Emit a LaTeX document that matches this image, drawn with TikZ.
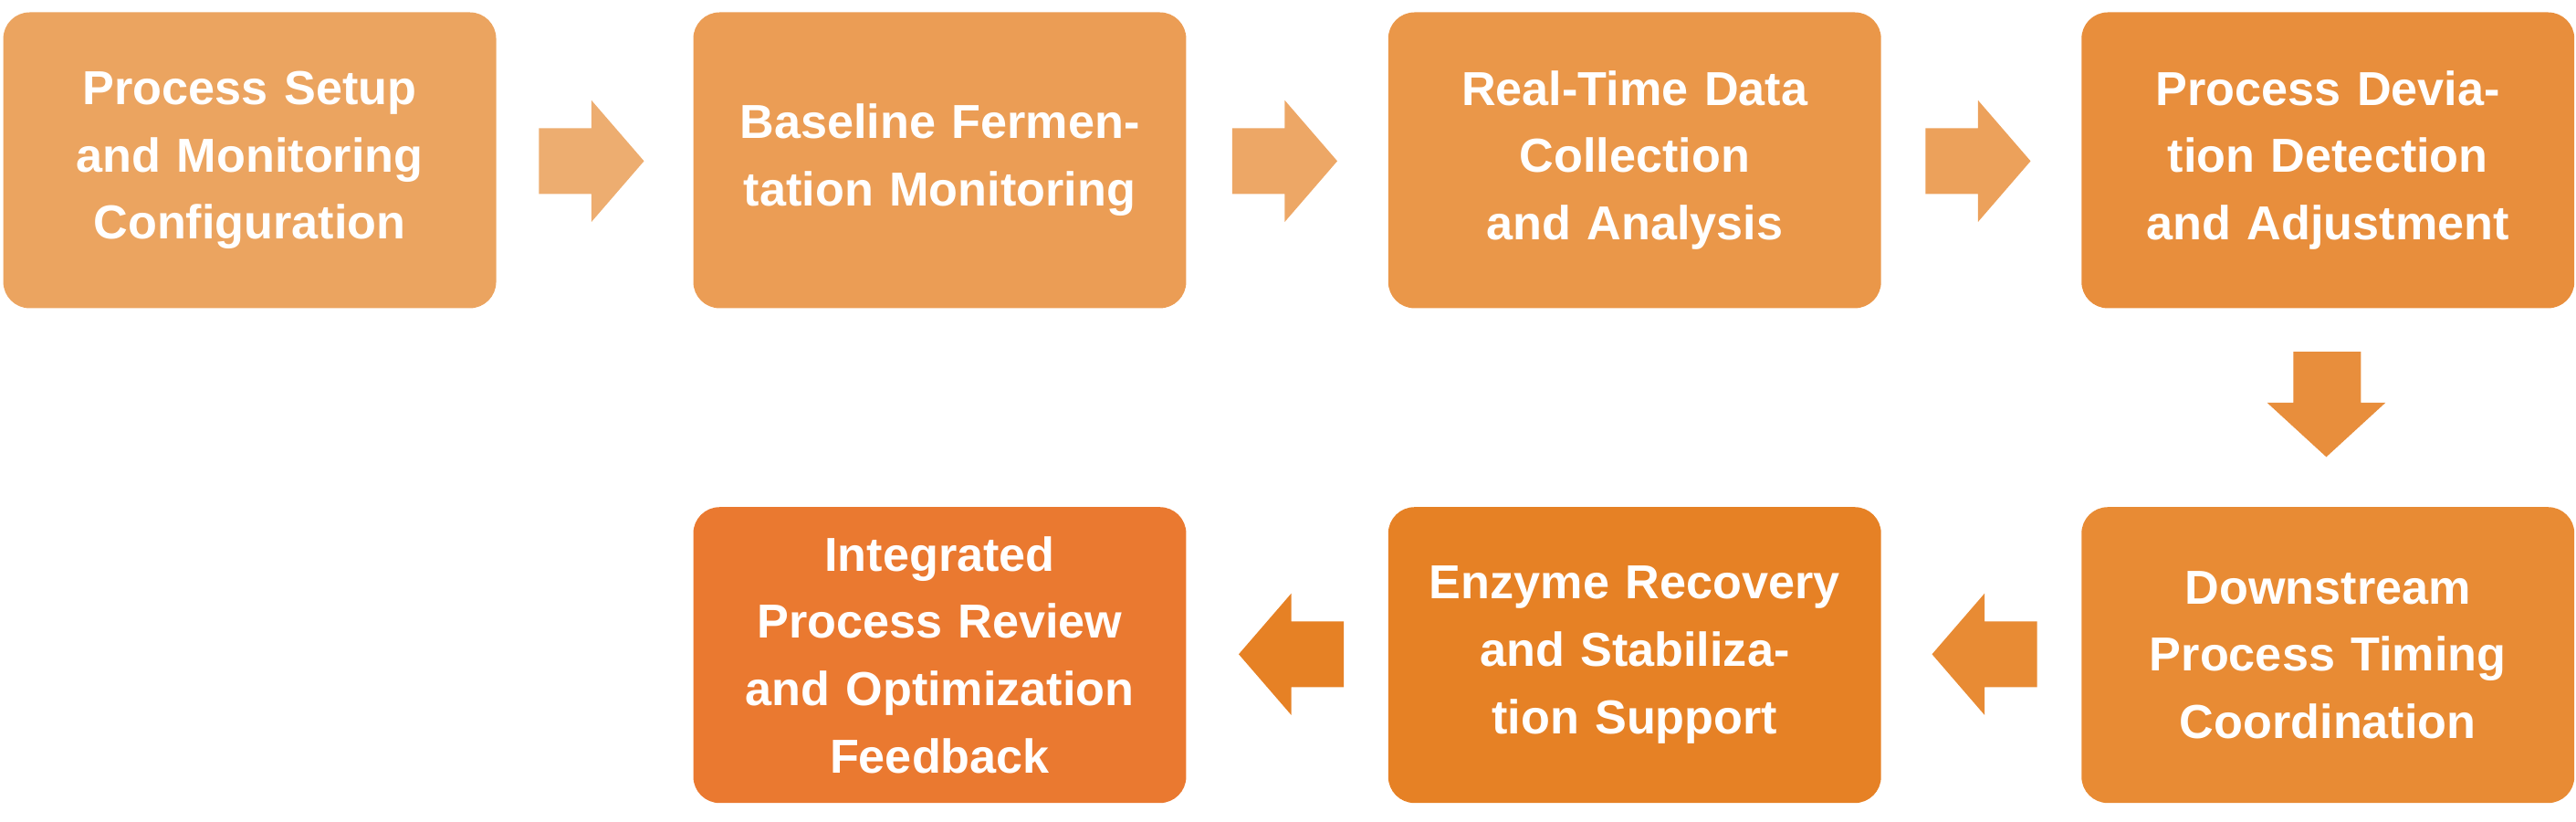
\documentclass[tikz,border=0pt]{standalone}
\usepackage{fontspec}
\setmainfont{Liberation Sans}
\begin{document}
\begin{tikzpicture}[x=1pt,y=-1pt,
 box/.style={rounded corners=16pt,minimum width=300pt,minimum height=180pt,text width=250pt,align=center,font=\bfseries\fontsize{29}{41}\selectfont,text=white,inner sep=0pt},
 arr/.style={fill=#1}]
\useasboundingbox (0,0) rectangle (1568,500);
\definecolor{c1}{HTML}{EBA460}\definecolor{c2}{HTML}{EB9D55}\definecolor{c3}{HTML}{EA9749}
\definecolor{c4}{HTML}{E88E3C}\definecolor{c5}{HTML}{E88B34}\definecolor{c6}{HTML}{E68125}\definecolor{c7}{HTML}{EA7930}
\node[box,fill=c1] (a) at (152,97.5) {Process Setup and Monitoring Configuration};
\node[box,fill=c2] (b) at (572,97.5) {Baseline Fermentation Monitoring};
\node[box,fill=c3] (c) at (995,97.5) {Real-Time Data Collection and Analysis};
\node[box,fill=c4] (d) at (1417,97.5) {Process Deviation Detection and Adjustment};
\node[box,fill=c5] (e) at (1417,398.5) {Downstream Process Timing Coordination};
\node[box,fill=c6] (f) at (995,398.5) {Enzyme Recovery and Stabilization Support};
\node[box,fill=c7] (g) at (572,398.5) {Integrated Process Review and Optimization Feedback};
\foreach \x/\c in {328/c1,750/c2,1172/c3}
 \fill[\c!90!white] (\x,78)--(\x+32,78)--(\x+32,61)--(\x+64,98)--(\x+32,135)--(\x+32,118)--(\x,118)--cycle;
\fill[c4] (1396,214)--(1437,214)--(1437,245)--(1452,245)--(1416,278)--(1380,245)--(1396,245)--cycle;
\foreach \x/\c in {1176/c5,754/c6}
 \fill[\c] (\x,398)--(\x+32,361)--(\x+32,378)--(\x+64,378)--(\x+64,418)--(\x+32,418)--(\x+32,435)--cycle;
\end{tikzpicture}
\end{document}
